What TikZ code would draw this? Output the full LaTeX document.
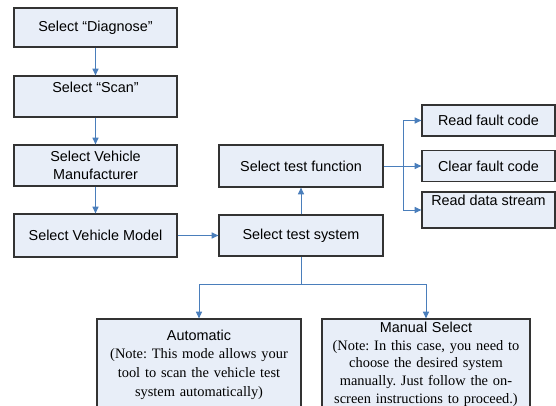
\documentclass[tikz,border=0pt]{standalone}
\usepackage{fontspec}
\setmainfont{Liberation Sans}
\newfontfamily\notefont{Liberation Serif}
\usepackage{xcolor}
\usetikzlibrary{arrows.meta}
\frenchspacing
\definecolor{boxfill}{HTML}{E8EEF8}
\definecolor{flowblue}{HTML}{4A7EBB}
\tikzset{stepbox/.style={rectangle,draw=black!80,fill=boxfill,line width=0.9pt,inner sep=0pt,align=center,font=\fontsize{10.8}{13.5}\selectfont}}
\tikzset{flow/.style={draw=flowblue,line width=0.75pt,-{Triangle[length=5pt,width=4.5pt]}}}
\tikzset{notetext/.style={inner sep=0pt,align=center,anchor=north}}

\begin{document}
\begin{tikzpicture}[x=0.75pt,y=-0.75pt]
        \useasboundingbox (0,0) rectangle (556,406);
        \clip (0,0) rectangle (556,406);

        \node[stepbox,minimum width=122.25pt,minimum height=29.25pt] (diag) at (95.5,27.5) {Select “Diagnose”};
        \node[stepbox,minimum width=122.25pt,text height=12.75pt,text depth=18pt] (scan) at (95.5,96.5) {Select “Scan”};
        \node[stepbox,minimum width=122.25pt,minimum height=30.75pt] (maker) at (95.5,165.5) {Select Vehicle\\Manufacturer};
        \node[stepbox,minimum width=122.25pt,minimum height=32.25pt] (model) at (95.5,235.5) {Select Vehicle Model};

        \node[stepbox,minimum width=123pt,minimum height=31.5pt] (func) at (301,166) {Select test function};
        \node[stepbox,minimum width=123pt,minimum height=30.75pt] (sys) at (301,235.5) {Select test system};

        \node[stepbox,minimum width=99.75pt,minimum height=23.25pt] (readf) at (488.5,120.5) {Read fault code};
        \node[stepbox,minimum width=99.75pt,minimum height=23.25pt] (clear) at (488.5,166) {Clear fault code};
        \node[stepbox,minimum width=99.75pt,text height=9.75pt,text depth=17.25pt] (stream) at (488.5,210) {Read data stream};

        \node[stepbox,minimum width=153pt,minimum height=75.75pt] (auto) at (199,369.5) {};
        \node[stepbox,minimum width=156pt,minimum height=75.75pt] (manual) at (426,369.5) {};
        \node[notetext,text width=150pt,font=\fontsize{10.8}{13.9}\selectfont] (autotext) at (199,329.7)
            {Automatic\\ \notefont (Note: This mode allows your\\ tool to scan the vehicle test\\ system automatically)};
        \node[notetext,text width=154pt,font=\fontsize{10.8}{13.3}\selectfont] (manualtext) at (426,321.7)
            {Manual Select\\ \notefont (Note: In this case, you need to\\ choose the desired system\\ manually. Just follow the on-\\ screen instructions to proceed.)};

        \coordinate (fork) at (403,166);
        \coordinate (split) at (301,284);

        \draw[flow] (diag) -- (scan);
        \draw[flow] (scan) -- (maker);
        \draw[flow] (maker) -- (model);
        \draw[flow] (model) -- (sys);
        \draw[flow] (sys) -- (func);
        \draw[flow] (func) -- (clear);
        \draw[flow] (fork) |- (readf);
        \draw[flow] (fork) |- (stream);
        \draw[draw=flowblue,line width=0.75pt] (sys) -- (split);
        \draw[flow] (split) -| (auto.north);
        \draw[flow] (split) -| (manual.north);
    \end{tikzpicture}
\end{document}
